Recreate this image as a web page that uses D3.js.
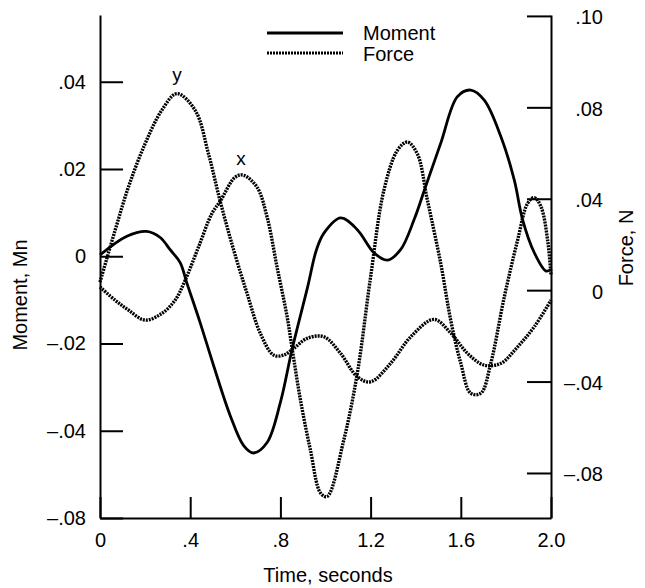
<!DOCTYPE html>
<html>
<head>
<meta charset="utf-8">
<script src="https://cdn.jsdelivr.net/npm/d3@7"></script>
<style>
  body { margin: 0; background: #fff; }
  svg { font-family: "Liberation Sans", Arial, Helvetica, sans-serif; }
  .axis path, .axis line { stroke: #000; stroke-width: 2; }
  .axis text { font-size: 20px; fill: #000; font-family: "Liberation Sans", Arial, sans-serif; }
</style>
</head>
<body>
<div id="chart"></div>
<script>
// series: [time (s), value]
let momentPts = [
	[0, 0.0003], [0.119, 0.0046], [0.207, 0.0057], [0.267, 0.0043], [0.311, 0.0015],
	[0.356, -0.0015], [0.385, -0.0061], [0.444, -0.0152], [0.504, -0.0251], [0.578, -0.0366],
	[0.637, -0.0434], [0.681, -0.0451], [0.741, -0.0427], [0.8, -0.0335], [0.852, -0.0213],
	[0.92, -0.0072], [0.96, 0.0015], [0.993, 0.0053], [1.067, 0.0088], [1.141, 0.0061],
	[1.215, 0.0008], [1.274, -0.0009], [1.333, 0.0015], [1.393, 0.0084], [1.444, 0.016],
	[1.511, 0.0259], [1.585, 0.0366], [1.644, 0.0381], [1.704, 0.0358], [1.778, 0.0274],
	[1.837, 0.0175], [1.874, 0.0084], [1.926, 0.0008], [1.978, -0.0034], [2.0, -0.003]
];
let forceXPts = [
	[0, 0.0014], [0.067, -0.0044], [0.126, -0.0087], [0.2, -0.0131], [0.274, -0.0102],
	[0.333, -0.0044], [0.378, 0.0044], [0.437, 0.0189], [0.496, 0.0335], [0.533, 0.0389],
	[0.6, 0.0495], [0.636, 0.0503], [0.696, 0.0451], [0.741, 0.032], [0.785, 0.0102],
	[0.83, -0.0117], [0.852, -0.0255], [0.889, -0.0481], [0.933, -0.0699], [0.978, -0.0888],
	[1.007, -0.0903], [1.081, -0.0656], [1.141, -0.0364], [1.2, 0.0058], [1.259, 0.0437],
	[1.319, 0.0612], [1.363, 0.0648], [1.407, 0.0597], [1.452, 0.0393], [1.511, 0.0117],
	[1.556, -0.0135], [1.6, -0.032], [1.644, -0.0451], [1.689, -0.0451], [1.733, -0.032],
	[1.793, -0.0029], [1.852, 0.0219], [1.896, 0.0379], [1.926, 0.0405], [1.956, 0.0364],
	[1.985, 0.0219], [2.0, 0.0066]
];
let forceYPts = [
	[0, 0.0035], [0.067, 0.0262], [0.126, 0.0451], [0.2, 0.0641], [0.274, 0.0787],
	[0.341, 0.086], [0.422, 0.0787], [0.481, 0.0597], [0.533, 0.0389], [0.593, 0.0175],
	[0.652, -0.0014], [0.711, -0.0189], [0.77, -0.0284], [0.815, -0.0284], [0.859, -0.0255],
	[0.919, -0.0211], [0.993, -0.0204], [1.067, -0.0277], [1.141, -0.0379], [1.2, -0.0401],
	[1.289, -0.032], [1.378, -0.0204], [1.481, -0.0128], [1.556, -0.0188], [1.63, -0.0277],
	[1.704, -0.0328], [1.778, -0.032], [1.852, -0.0248], [1.926, -0.016], [2.0, -0.0044]
];

let timeTicks = [0, 0.4, 0.8, 1.2, 1.6, 2.0];
let timeLabels = ['0', '.4', '.8', '1.2', '1.6', '2.0'];
let momentTicks = [0.04, 0.02, 0, -0.02, -0.04, -0.06];
let momentLabels = ['.04', '.02', '0', '–.02', '–.04', '–.08'];
let forceTicks = [0.12, 0.08, 0.04, 0, -0.04, -0.08];
let forceLabels = ['.10', '.08', '.04', '0', '–.04', '–.08'];

let W = 645, H = 588;
let plot = { left: 100, right: 551, top: 15, bot: 518 };

const svg = d3.select('#chart').append('svg').attr('width', W).attr('height', H);

let x = d3.scaleLinear().domain([0, 2]).range([plot.left, plot.right]);
let yL = d3.scaleLinear().domain([-0.06, 0.0553]).range([plot.bot, plot.top]);
let yR = d3.scaleLinear().domain([-0.0997, 0.1204]).range([plot.bot, plot.top]);

// axes, ticks pointing inward
svg.append('g').attr('class', 'axis').attr('transform', 'translate(' + plot.left + ',0)')
	.call(d3.axisLeft(yL).tickValues(momentTicks).tickSizeInner(-23).tickSizeOuter(0).tickPadding(14)
		.tickFormat((d, i) => momentLabels[i]));

let ra = svg.append('g').attr('class', 'axis').attr('transform', 'translate(' + plot.right + ',0)')
	.call(d3.axisRight(yR).tickValues(forceTicks).tickSizeInner(-24).tickSizeOuter(0)
		.tickFormat((d, i) => forceLabels[i]));
ra.selectAll('text').attr('text-anchor', 'end').attr('x', 52).attr('dy', '0.4em');

svg.append('g').attr('class', 'axis').attr('transform', 'translate(0,' + plot.bot + ')')
	.call(d3.axisBottom(x).tickValues(timeTicks).tickSizeInner(-21).tickSizeOuter(0).tickPadding(15)
		.tickFormat((d, i) => timeLabels[i]));

// curves
let lineM = d3.line().x(d => x(d[0])).y(d => yL(d[1])).curve(d3.curveCatmullRom.alpha(0.5));
let lineF = d3.line().x(d => x(d[0])).y(d => yR(d[1])).curve(d3.curveCatmullRom.alpha(0.5));

svg.append('path').attr('d', lineF(forceYPts)).attr('fill', 'none').attr('stroke', '#000')
	.attr('stroke-width', 3.4).attr('stroke-dasharray', '2,1');
svg.append('path').attr('d', lineF(forceXPts)).attr('fill', 'none').attr('stroke', '#000')
	.attr('stroke-width', 3.4).attr('stroke-dasharray', '2,1');
svg.append('path').attr('d', lineM(momentPts)).attr('fill', 'none').attr('stroke', '#000')
	.attr('stroke-width', 2.8);

// curve tags
svg.append('text').attr('x', 177).attr('y', 81).attr('text-anchor', 'middle')
	.style('font-size', '19px').text('y');
svg.append('text').attr('x', 241).attr('y', 165).attr('text-anchor', 'middle')
	.style('font-size', '19px').text('x');

// legend
let leg = svg.append('g').attr('transform', 'translate(267, 33)');
leg.append('line').attr('x1', 0).attr('x2', 76).attr('y1', 0).attr('y2', 0)
	.attr('stroke', '#000').attr('stroke-width', 3);
leg.append('text').attr('x', 96).attr('y', 7).style('font-size', '20px').text('Moment');
leg.append('line').attr('x1', 0).attr('x2', 76).attr('y1', 20).attr('y2', 20)
	.attr('stroke', '#000').attr('stroke-width', 3).attr('stroke-dasharray', '2,1');
leg.append('text').attr('x', 96).attr('y', 28).style('font-size', '20px').text('Force');

// axis titles
svg.append('text').attr('x', 328).attr('y', 582).attr('text-anchor', 'middle')
	.style('font-size', '20px').text('Time, seconds');
svg.append('text').attr('transform', 'translate(27, 295) rotate(-90)').attr('text-anchor', 'middle')
	.style('font-size', '20px').text('Moment, Mn');
svg.append('text').attr('transform', 'translate(633, 248) rotate(-90)').attr('text-anchor', 'middle')
	.style('font-size', '20px').text('Force, N');
</script>
</body>
</html>
